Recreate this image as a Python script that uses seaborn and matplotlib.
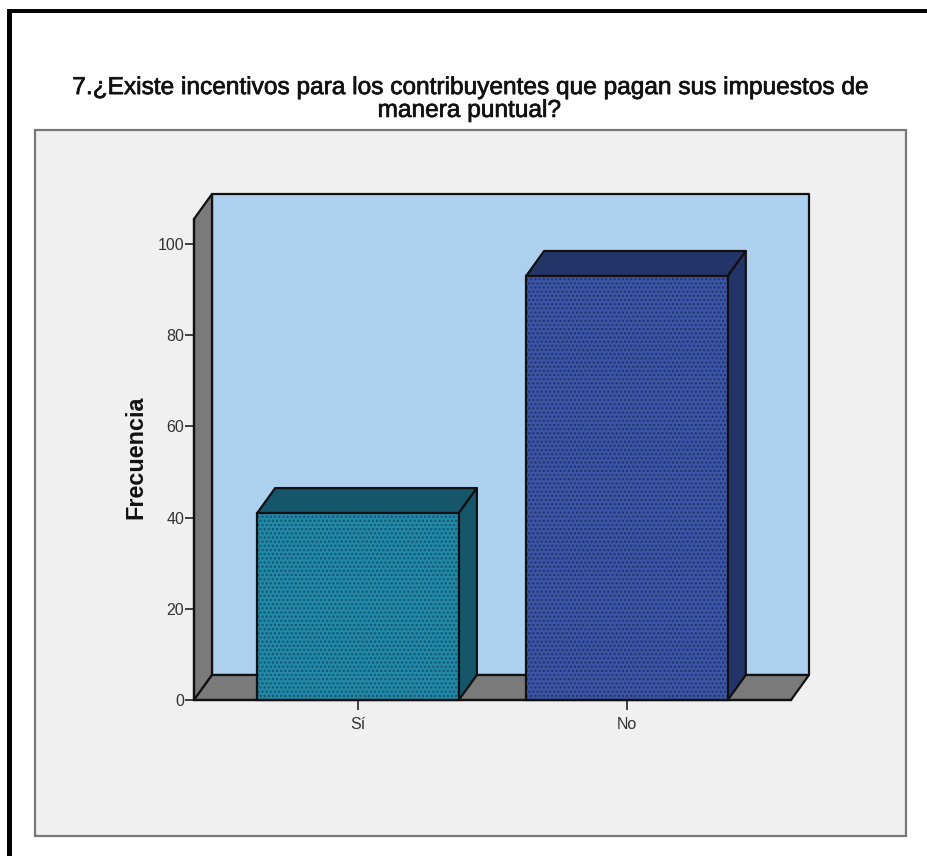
import matplotlib
matplotlib.use('Agg')
import matplotlib.pyplot as plt
import matplotlib.patheffects as pe
from matplotlib.patches import Polygon, Rectangle
import pandas as pd
import seaborn as sns

# ── Data ────────────────────────────────────────────────────
categories = ['Sí', 'No']
frequencies = [41, 93]
y_ticks = [0, 20, 40, 60, 80, 100]
title = ('7.¿Existe incentivos para los contribuyentes que pagan sus impuestos de\n'
         'manera puntual?')
y_label = 'Frecuencia'

W, H = 927, 856
face_colors = ['#2288A8', '#3D55A8']
dot_colors = ['#14566E', '#233468']
side_colors = ['#15566B', '#233568']
WALL = '#ACD0EE'
GREY = '#7A7A7A'
PANEL = '#F0F0F0'

sns.set_theme(style='white')
plt.rcParams['font.family'] = ['Liberation Sans', 'DejaVu Sans']
plt.rcParams['hatch.linewidth'] = 1.1

fig = plt.figure(figsize=(W / 100, H / 100), dpi=100, facecolor='white')


def box(x0, y0, x1, y1, **kw):
    # rectangle given in picture pixels (y downwards)
    fig.add_artist(Rectangle((x0 / W, 1 - y1 / H), (x1 - x0) / W, (y1 - y0) / H,
                             transform=fig.transFigure, zorder=-1, **kw))


# outer frame and grey panel
box(7, 9, 12, H, facecolor='black', edgecolor='none')
box(7, 9, W, 13, facecolor='black', edgecolor='none')
box(34.5, 129.5, 906, 836, facecolor=PANEL, edgecolor='#777777', linewidth=1.6)

# front plane of the chart, in pixels
left, right, top, bottom = 194, 791, 219, 700
ax = fig.add_axes([left / W, 1 - bottom / H, (right - left) / W, (bottom - top) / H])
ax.patch.set_visible(False)

df = pd.DataFrame({'respuesta': categories, 'frecuencia': frequencies})

# bars: fill with dot pattern first, then black outline on top
sns.barplot(data=df, x='respuesta', y='frecuencia', hue='respuesta', ax=ax,
            palette=face_colors, saturation=1, width=0.75, legend=False, zorder=3)
for bar, dots in zip(ax.patches, dot_colors):
    bar.set_hatch('....')
    bar.set_edgecolor(dots)
    bar.set_linewidth(0)

xmin, xmax, ymax = -0.61, 1.61, 105.5
ax.set_xlim(xmin, xmax)
ax.set_ylim(0, ymax)

# 3D depth in data units
dx = 18 / ((right - left) / (xmax - xmin))
dy = 25 / ((bottom - top) / ymax)


def face(points, color, z):
    ax.add_patch(Polygon(points, closed=True, facecolor=color, edgecolor='#111111',
                         linewidth=1.6, joinstyle='round', clip_on=False, zorder=z))


# back wall, side wall, floor
face([(xmin + dx, dy), (xmax + dx, dy), (xmax + dx, ymax + dy), (xmin + dx, ymax + dy)], WALL, 0.5)
face([(xmin, 0), (xmin + dx, dy), (xmin + dx, ymax + dy), (xmin, ymax)], GREY, 0.6)
face([(xmin, 0), (xmax, 0), (xmax + dx, dy), (xmin + dx, dy)], GREY, 0.6)

# bar tops, sides and outlines
for bar, side in zip(list(ax.patches)[:2], side_colors):
    x0 = bar.get_x()
    x1 = x0 + bar.get_width()
    h = bar.get_height()
    face([(x0, h), (x1, h), (x1 + dx, h + dy), (x0 + dx, h + dy)], side, 2.5)
    face([(x1, 0), (x1 + dx, dy), (x1 + dx, h + dy), (x1, h)], side, 2.5)
    ax.add_patch(Rectangle((x0, 0), x1 - x0, h, fill=False, edgecolor='#111111',
                           linewidth=1.6, clip_on=False, zorder=4))

sns.despine(ax=ax, top=True, right=True)
for side in ['left', 'bottom']:
    ax.spines[side].set_color('#111111')
    ax.spines[side].set_linewidth(1.6)
    ax.spines[side].set_zorder(5)

ax.set_yticks(y_ticks)
ax.tick_params(axis='y', left=True, length=6.5, width=1.2, color='#222222', pad=0.5,
               labelsize=11.5, labelcolor='#333333')
ax.tick_params(axis='x', bottom=True, length=7.5, width=1.2, color='#222222', pad=4.5,
               labelsize=11.5, labelcolor='#333333')
ax.set_xlabel('')
ax.set_ylabel('')

fig.text(135.5 / W, 1 - 457.5 / H, y_label, rotation=90, ha='center', va='center',
         fontsize=16.8, fontweight='bold', color='#111111')
title_txt = fig.text(469 / W, 1 - 99.5 / H, title, ha='center', va='center', fontsize=17.6,
                     color='#111111', linespacing=1.05)
title_txt.set_path_effects([pe.withStroke(linewidth=0.5, foreground='#111111')])

fig.savefig('out.png', dpi=100)
